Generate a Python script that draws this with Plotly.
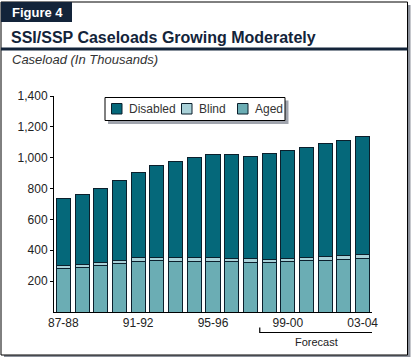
import plotly.graph_objects as go

years = ["87-88", "88-89", "89-90", "90-91", "91-92", "92-93", "93-94", "94-95",
         "95-96", "96-97", "97-98", "98-99", "99-00", "00-01", "01-02", "02-03", "03-04"]
aged = [282, 289, 301, 314, 327, 334, 329, 329, 329, 325, 323, 318, 327, 331, 334, 342, 347]
blind = [21, 21, 22, 23, 24, 22, 24, 24, 24, 24, 21, 23, 22, 24, 26, 24, 26]
totals = [738, 762, 801, 855, 905, 950, 976, 1002, 1021, 1021, 1008, 1028, 1047, 1067, 1093, 1112, 1138]
disabled = [t - a - b for t, a, b in zip(totals, aged, blind)]
tick_years = ["87-88", "91-92", "95-96", "99-00", "03-04"]
y_ticks = [200, 400, 600, 800, 1000, 1200, 1400]
series_names = ["Disabled", "Blind", "Aged"]

W, H = 411, 357
L, R, T, B = 54, 39, 96, 45
PW, PH = W - L - R, H - T - B


def px(x):
    return (x - L) / PW


def py(y):
    return (H - B - y) / PH


DARK = "#13243a"
FONT = "Liberation Sans, Arial, sans-serif"
OUT = "#0b1f2c"
COLORS = {"Disabled": "#05687a", "Blind": "#a9d1d8", "Aged": "#6badb4"}

fig = go.Figure()
for name, vals in [("Aged", aged), ("Blind", blind), ("Disabled", disabled)]:
    fig.add_bar(x=years, y=vals, name=name, width=0.75, showlegend=False,
                marker=dict(color=COLORS[name], line=dict(color=OUT, width=1)))

shapes = [
    # frame shadow and frame
    dict(type="rect", xref="paper", yref="paper", x0=px(4), x1=px(410.5), y0=py(5), y1=py(357),
         fillcolor="#8d929c", line=dict(width=0), layer="below"),
    dict(type="rect", xref="paper", yref="paper", x0=px(1), x1=px(407.5), y0=py(2), y1=py(355),
         fillcolor="white", line=dict(color="black", width=1), layer="below"),
    # header box
    dict(type="rect", xref="paper", yref="paper", x0=px(1), x1=px(72), y0=py(2), y1=py(22),
         fillcolor=DARK, line=dict(width=0), layer="below"),
    # title rule
    dict(type="rect", xref="paper", yref="paper", x0=px(1), x1=px(407.5), y0=py(47.5), y1=py(50.5),
         fillcolor=DARK, line=dict(width=0), layer="below"),
    # legend shadow and box
    dict(type="rect", xref="paper", yref="paper", x0=px(108), x1=px(288.5), y0=py(100.5), y1=py(124),
         fillcolor="#a0a4ad", line=dict(width=0)),
    dict(type="rect", xref="paper", yref="paper", x0=px(105), x1=px(285), y0=py(97.5), y1=py(120.5),
         fillcolor="white", line=dict(color="black", width=1)),
    # forecast bracket
    dict(type="path", xref="x", yref="paper",
         path=f"M 10.5,{py(327.5)} L 10.5,{py(332.5)} L 16.55,{py(332.5)} L 16.55,{py(327.5)}",
         line=dict(color="black", width=1.2)),
]

annotations = [
    dict(text="<b>Figure 4</b>", x=px(10), y=py(12.5), xref="paper", yref="paper", xanchor="left",
         yanchor="middle", showarrow=False, font=dict(family=FONT, size=13, color="white")),
    dict(text="<b>SSI/SSP Caseloads Growing Moderately</b>", x=px(8.5), y=py(37), xref="paper", yref="paper",
         xanchor="left", yanchor="middle", showarrow=False, font=dict(family=FONT, size=16, color=DARK)),
    dict(text="<i>Caseload (In Thousands)</i>", x=px(9.5), y=py(60), xref="paper", yref="paper",
         xanchor="left", yanchor="middle", showarrow=False, font=dict(family=FONT, size=13, color="#333")),
    dict(text="Forecast", x=13.53, y=py(341.5), xref="x", yref="paper", xanchor="center", yanchor="middle",
         showarrow=False, font=dict(family=FONT, size=11, color="#222")),
]

# legend (drawn as a key box)
swatch_x = [111.5, 181.5, 237.5]
for name, sx in zip(series_names, swatch_x):
    shapes.append(dict(type="rect", xref="paper", yref="paper", x0=px(sx), x1=px(sx + 10.5),
                       y0=py(103.5), y1=py(114), fillcolor=COLORS[name], line=dict(color=OUT, width=1)))
    annotations.append(dict(text=name, x=px(sx + 15.5), y=py(108.5), xref="paper", yref="paper",
                            xanchor="left", yanchor="middle", showarrow=False,
                            font=dict(family=FONT, size=12, color="#333")))

fig.update_layout(
    width=W, height=H,
    margin=dict(l=L, r=R, t=T, b=B, pad=0),
    barmode="stack",
    paper_bgcolor="white",
    plot_bgcolor="rgba(0,0,0,0)",
    font=dict(family=FONT, size=12, color="#222"),
    shapes=shapes,
    annotations=annotations,
    showlegend=False,
    xaxis=dict(type="category", categoryorder="array", categoryarray=years, range=[-0.5, 16.5],
               tickmode="array", tickvals=tick_years, ticktext=tick_years, showline=True,
               linecolor="black", linewidth=1, ticks="", showgrid=False, zeroline=False,
               tickfont=dict(family=FONT, size=12, color="#222")),
    yaxis=dict(range=[0, 1400], tickmode="array", tickvals=y_ticks, tickformat=",", showline=True,
               linecolor="black", linewidth=1, ticks="outside", ticklen=3, tickcolor="black",
               showgrid=False, zeroline=False, tickfont=dict(family=FONT, size=12, color="#222")),
)

fig.write_html("out.html", config={"displayModeBar": False},
               post_script="document.body.style.margin='0';")
